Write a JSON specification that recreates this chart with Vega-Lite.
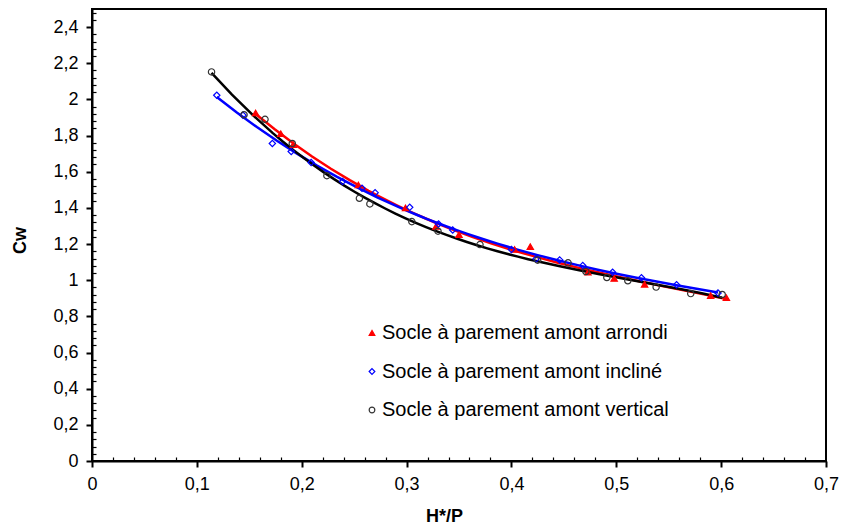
{
  "$schema": "https://vega.github.io/schema/vega-lite/v6.json",
  "width": 734,
  "height": 452,
  "autosize": {"type": "none"},
  "padding": {"left": 92, "top": 9, "right": 19, "bottom": 63},
  "background": "white",
  "config": {
    "font": "Liberation Sans",
    "view": {"stroke": "black", "strokeWidth": 2},
    "axis": {"grid": false},
    "legend": {
      "orient": "none", "legendX": 270, "legendY": 314,
      "labelFontSize": 20, "labelColor": "black", "labelLimit": 400,
      "symbolSize": 32, "symbolStrokeWidth": 1.2, "rowPadding": 18.5, "labelOffset": 0
    }
  },
  "data": {
    "values": [
      {"serie": "Socle à parement amont arrondi", "x": 0.156, "y": 1.925},
      {"serie": "Socle à parement amont arrondi", "x": 0.180, "y": 1.81},
      {"serie": "Socle à parement amont arrondi", "x": 0.192, "y": 1.75},
      {"serie": "Socle à parement amont arrondi", "x": 0.254, "y": 1.527},
      {"serie": "Socle à parement amont arrondi", "x": 0.299, "y": 1.40},
      {"serie": "Socle à parement amont arrondi", "x": 0.328, "y": 1.297},
      {"serie": "Socle à parement amont arrondi", "x": 0.350, "y": 1.252},
      {"serie": "Socle à parement amont arrondi", "x": 0.403, "y": 1.17},
      {"serie": "Socle à parement amont arrondi", "x": 0.418, "y": 1.186},
      {"serie": "Socle à parement amont arrondi", "x": 0.473, "y": 1.044},
      {"serie": "Socle à parement amont arrondi", "x": 0.498, "y": 1.01},
      {"serie": "Socle à parement amont arrondi", "x": 0.527, "y": 0.977},
      {"serie": "Socle à parement amont arrondi", "x": 0.590, "y": 0.915},
      {"serie": "Socle à parement amont arrondi", "x": 0.605, "y": 0.903},
      {"serie": "Socle à parement amont incliné", "x": 0.119, "y": 2.023},
      {"serie": "Socle à parement amont incliné", "x": 0.144, "y": 1.913},
      {"serie": "Socle à parement amont incliné", "x": 0.172, "y": 1.756},
      {"serie": "Socle à parement amont incliné", "x": 0.190, "y": 1.712},
      {"serie": "Socle à parement amont incliné", "x": 0.209, "y": 1.651},
      {"serie": "Socle à parement amont incliné", "x": 0.239, "y": 1.546},
      {"serie": "Socle à parement amont incliné", "x": 0.2575, "y": 1.508},
      {"serie": "Socle à parement amont incliné", "x": 0.270, "y": 1.484},
      {"serie": "Socle à parement amont incliné", "x": 0.303, "y": 1.403},
      {"serie": "Socle à parement amont incliné", "x": 0.3305, "y": 1.311},
      {"serie": "Socle à parement amont incliné", "x": 0.344, "y": 1.278},
      {"serie": "Socle à parement amont incliné", "x": 0.400, "y": 1.17},
      {"serie": "Socle à parement amont incliné", "x": 0.4235, "y": 1.118},
      {"serie": "Socle à parement amont incliné", "x": 0.446, "y": 1.112},
      {"serie": "Socle à parement amont incliné", "x": 0.468, "y": 1.081},
      {"serie": "Socle à parement amont incliné", "x": 0.4965, "y": 1.044},
      {"serie": "Socle à parement amont incliné", "x": 0.524, "y": 1.013},
      {"serie": "Socle à parement amont incliné", "x": 0.5575, "y": 0.975},
      {"serie": "Socle à parement amont incliné", "x": 0.597, "y": 0.929},
      {"serie": "Socle à parement amont vertical", "x": 0.114, "y": 2.152},
      {"serie": "Socle à parement amont vertical", "x": 0.145, "y": 1.915},
      {"serie": "Socle à parement amont vertical", "x": 0.165, "y": 1.89},
      {"serie": "Socle à parement amont vertical", "x": 0.191, "y": 1.756},
      {"serie": "Socle à parement amont vertical", "x": 0.224, "y": 1.578},
      {"serie": "Socle à parement amont vertical", "x": 0.255, "y": 1.453},
      {"serie": "Socle à parement amont vertical", "x": 0.265, "y": 1.422},
      {"serie": "Socle à parement amont vertical", "x": 0.305, "y": 1.324},
      {"serie": "Socle à parement amont vertical", "x": 0.330, "y": 1.271},
      {"serie": "Socle à parement amont vertical", "x": 0.370, "y": 1.197},
      {"serie": "Socle à parement amont vertical", "x": 0.425, "y": 1.111},
      {"serie": "Socle à parement amont vertical", "x": 0.454, "y": 1.096},
      {"serie": "Socle à parement amont vertical", "x": 0.471, "y": 1.048},
      {"serie": "Socle à parement amont vertical", "x": 0.491, "y": 1.015},
      {"serie": "Socle à parement amont vertical", "x": 0.511, "y": 0.997},
      {"serie": "Socle à parement amont vertical", "x": 0.538, "y": 0.962},
      {"serie": "Socle à parement amont vertical", "x": 0.571, "y": 0.926},
      {"serie": "Socle à parement amont vertical", "x": 0.601, "y": 0.921}
    ]
  },
  "layer": [
    {
      "transform": [
        {"filter": "datum.serie == 'Socle à parement amont arrondi'"},
        {"regression": "y", "on": "x", "method": "poly", "order": 3}
      ],
      "mark": {"type": "line", "strokeWidth": 2.5, "color": "#ff0000"},
      "encoding": {
        "x": {"field": "x", "type": "quantitative"},
        "y": {"field": "y", "type": "quantitative"}
      }
    },
    {
      "transform": [
        {"filter": "datum.serie == 'Socle à parement amont incliné'"},
        {"regression": "y", "on": "x", "method": "poly", "order": 3}
      ],
      "mark": {"type": "line", "strokeWidth": 2.5, "color": "#0000ff"},
      "encoding": {
        "x": {"field": "x", "type": "quantitative"},
        "y": {"field": "y", "type": "quantitative"}
      }
    },
    {
      "transform": [
        {"filter": "datum.serie == 'Socle à parement amont vertical'"},
        {"regression": "y", "on": "x", "method": "poly", "order": 3}
      ],
      "mark": {"type": "line", "strokeWidth": 2.5, "color": "#000000"},
      "encoding": {
        "x": {"field": "x", "type": "quantitative"},
        "y": {"field": "y", "type": "quantitative"}
      }
    },
    {
      "mark": {"type": "point", "strokeWidth": 1.2, "opacity": 1, "size": 40},
      "encoding": {
        "x": {
          "field": "x", "type": "quantitative",
          "scale": {"domain": [0, 0.7], "nice": false},
          "axis": {
            "title": "H*/P",
            "titleFontSize": 18, "titleFontWeight": "bold", "titleColor": "black",
            "titleX": 352, "titleY": 60, "titleBaseline": "alphabetic",
            "values": [0,0.02,0.04,0.06,0.08,0.1,0.12,0.14,0.16,0.18,0.2,0.22,0.24,0.26,0.28,0.3,0.32,0.34,0.36,0.38,0.4,0.42,0.44,0.46,0.48,0.5,0.52,0.54,0.56,0.58,0.6,0.62,0.64,0.66,0.68,0.7],
            "tickCount": 200,
            "labelOverlap": false,
            "labelExpr": "abs(datum.value*10 - round(datum.value*10)) < 0.001 ? replace(format(datum.value, '.1~f'), '.', ',') : ''",
            "labelFontSize": 18, "labelColor": "black", "labelPadding": 8,
            "labelFlush": false,
            "domainColor": "black", "domainWidth": 2,
            "tickColor": "black",
            "tickSize": {"condition": {"test": "abs(datum.value*10 - round(datum.value*10)) < 0.001", "value": 6}, "value": -4},
            "tickWidth": {"condition": {"test": "abs(datum.value*10 - round(datum.value*10)) < 0.001", "value": 2}, "value": 1.2}
          }
        },
        "y": {
          "field": "y", "type": "quantitative",
          "scale": {"domain": [0, 2.5], "nice": false},
          "axis": {
            "title": "Cw",
            "titleFontSize": 18, "titleFontWeight": "bold", "titleColor": "black",
            "titleX": -72, "titleY": 231, "titleAlign": "center", "titleBaseline": "middle", "titleAngle": -90,
            "values": [0,0.04,0.08,0.12,0.16,0.2,0.24,0.28,0.32,0.36,0.4,0.44,0.48,0.52,0.56,0.6,0.64,0.68,0.72,0.76,0.8,0.84,0.88,0.92,0.96,1,1.04,1.08,1.12,1.16,1.2,1.24,1.28,1.32,1.36,1.4,1.44,1.48,1.52,1.56,1.6,1.64,1.68,1.72,1.76,1.8,1.84,1.88,1.92,1.96,2,2.04,2.08,2.12,2.16,2.2,2.24,2.28,2.32,2.36,2.4,2.44,2.48],
            "tickCount": 200,
            "labelOverlap": false,
            "labelExpr": "abs(datum.value*5 - round(datum.value*5)) < 0.001 ? replace(format(datum.value, '.1~f'), '.', ',') : ''",
            "labelFontSize": 18, "labelColor": "black", "labelPadding": 8,
            "labelFlush": false,
            "domainColor": "black", "domainWidth": 2,
            "tickColor": "black",
            "tickSize": {"condition": {"test": "abs(datum.value*5 - round(datum.value*5)) < 0.001", "value": 6}, "value": -4},
            "tickWidth": {"condition": {"test": "abs(datum.value*5 - round(datum.value*5)) < 0.001", "value": 2}, "value": 1.2}
          }
        },
        "shape": {
          "field": "serie", "type": "nominal", "title": null,
          "scale": {"domain": ["Socle à parement amont arrondi", "Socle à parement amont incliné", "Socle à parement amont vertical"], "range": ["triangle-up", "diamond", "circle"]}
        },
        "fill": {
          "field": "serie", "type": "nominal", "title": null,
          "scale": {"domain": ["Socle à parement amont arrondi", "Socle à parement amont incliné", "Socle à parement amont vertical"], "range": ["#ff0000", "transparent", "transparent"]}
        },
        "stroke": {
          "field": "serie", "type": "nominal", "title": null,
          "scale": {"domain": ["Socle à parement amont arrondi", "Socle à parement amont incliné", "Socle à parement amont vertical"], "range": ["#ff0000", "#0000ff", "#333333"]}
        }
      }
    }
  ]
}
